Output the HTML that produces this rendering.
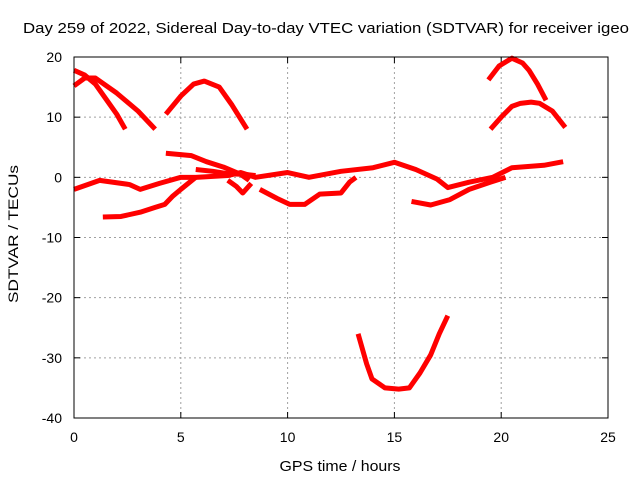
<!DOCTYPE html>
<html><head><meta charset="utf-8"><style>
body{margin:0;background:#fff}
svg{display:block;font-family:"Liberation Sans",sans-serif}
</style></head><body>
<svg id="c" width="640" height="480">
<rect width="640" height="480" fill="#fff"/>
<text x="326" y="33" font-size="15" text-anchor="middle" textLength="606" lengthAdjust="spacingAndGlyphs">Day 259 of 2022, Sidereal Day-to-day VTEC variation (SDTVAR) for receiver igeo</text>
<g id="grid"></g>
<g id="series"></g>
<rect x="74" y="57" width="534" height="361" fill="none" stroke="#000"/>
<text x="340" y="471" font-size="15" text-anchor="middle" textLength="121" lengthAdjust="spacingAndGlyphs">GPS time / hours</text>
<text transform="translate(18,234) rotate(-90)" font-size="14" text-anchor="middle" textLength="138" lengthAdjust="spacingAndGlyphs">SDTVAR / TECUs</text>
</svg>
<script>
const xTicks=[0,5,10,15,20,25];
const yTicks=[-40,-30,-20,-10,0,10,20];
const s1h=[0,0.5,1,1.5,2,2.4];const s1v=[17.8,17,15.5,13,10.5,8];
const s2h=[0,0.5,1,2,3,3.8];const s2v=[15.2,16.5,16.5,14,11,8];
const s3h=[4.3,5,5.6,6.1,6.8,7.4,8.1];const s3v=[10.5,13.5,15.5,16,15,12,8];
const s4h=[13.3,13.7,13.95,14.56,15.2,15.7,16.2,16.7,17.1,17.5];const s4v=[-26,-31,-33.5,-35,-35.2,-35,-32.5,-29.5,-26,-23];
const s5h=[19.5,20,20.5,20.9,21.4,21.8,22.4,23];const s5v=[8,10,11.8,12.3,12.5,12.3,11,8.3];
const s6h=[19.4,19.9,20.5,21,21.3,21.7,22.1];const s6v=[16.2,18.5,19.8,19,17.8,15.5,12.8];
const s7h=[0,1.2,2.6,3.1,4,5,5.7,7.2,7.8,8.5,10,11,12.5,14,15,16,17,17.5,18.5,19.6,20.5,22,22.9];
const s7v=[-2,-0.5,-1.2,-2,-1,0,0,0.3,0.8,0,0.8,0,1,1.6,2.5,1.3,-0.3,-1.7,-0.8,0,1.6,2,2.6];
const s8h=[4.3,5.5,6.2,7,7.8,8.2];const s8v=[4,3.6,2.6,1.7,0.5,-0.5];
const s9h=[5.7,6.5,7.2,8,8.5];const s9v=[1.3,1,0.6,0.5,0.3];
const s10h=[1.35,2.2,3.1,3.8,4.25,4.6,5,5.7];const s10v=[-6.6,-6.5,-5.8,-5,-4.5,-3.2,-2,0];
const s11h=[7.2,7.6,7.9,8.3];const s11v=[-0.5,-1.5,-2.6,-1];
const s12h=[8.7,9.5,10.1,10.8,11.5,12.5,12.9,13.2];const s12v=[-2,-3.5,-4.5,-4.5,-2.8,-2.6,-0.8,0];
const s13h=[15.8,16.7,17.6,18.5,19.5,20.2];const s13v=[-4,-4.6,-3.7,-2,-0.8,0];
const X=h=>74+h*534/25, Y=v=>418-(v+40)*361/60;
const NS='http://www.w3.org/2000/svg';
const grid=document.getElementById('grid'), ser=document.getElementById('series');
function mk(t,a,p){const e=document.createElementNS(NS,t);for(const k in a)e.setAttribute(k,a[k]);p.appendChild(e);return e;}
xTicks.forEach(t=>{
 if(t>0&&t<25){const l=mk('line',{x1:X(t),x2:X(t),y1:57,y2:418,stroke:'#a0a0a0','stroke-dasharray':'2,3'},grid);
 
 }
 mk('line',{x1:X(t),x2:X(t),y1:418,y2:412,stroke:'#000'},grid);
 mk('line',{x1:X(t),x2:X(t),y1:57,y2:63,stroke:'#000'},grid);
 const tx=mk('text',{x:X(t),y:442,'font-size':14,'text-anchor':'middle'},grid);tx.textContent=t;
 
 
});
yTicks.forEach(t=>{
 if(t>-40&&t<20){const l=mk('line',{x1:74,x2:608,y1:Y(t),y2:Y(t),stroke:'#a0a0a0','stroke-dasharray':'2,3'},grid);
 
 }
 mk('line',{x1:74,x2:80,y1:Y(t),y2:Y(t),stroke:'#000'},grid);
 mk('line',{x1:602,x2:608,y1:Y(t),y2:Y(t),stroke:'#000'},grid);
 const tx=mk('text',{x:62,y:Y(t)+5,'font-size':14,'text-anchor':'end'},grid);tx.textContent=t;
 
 
});
const all=[[s1h,s1v],[s2h,s2v],[s3h,s3v],[s4h,s4v],[s5h,s5v],[s6h,s6v],[s7h,s7v],[s8h,s8v],[s9h,s9v],[s10h,s10v],[s11h,s11v],[s12h,s12v],[s13h,s13v]];
all.forEach(([h,v])=>{
 const p=mk('polyline',{points:h.map((x,i)=>X(x)+','+Y(v[i])).join(' '),fill:'none',stroke:'#ff0000','stroke-width':5,'stroke-linejoin':'round'},ser);
 
 
});
</script>
</body></html>
